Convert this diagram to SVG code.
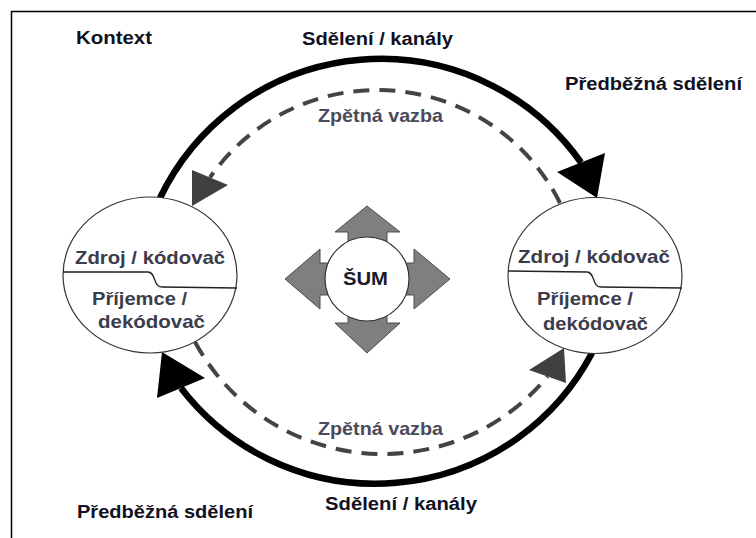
<svg xmlns="http://www.w3.org/2000/svg" width="756" height="538" viewBox="0 0 756 538">
<style>
.t{font-family:"Liberation Sans",Arial,sans-serif;font-weight:bold;}
.lab{font-size:18px;fill:#111122;}
.fb{font-size:18.5px;fill:#4a4a5c;}
.nd{font-size:18.5px;fill:#3c3c4c;}
.main{fill:none;stroke:#000;stroke-width:6.5;}
.dash{fill:none;stroke:#444;stroke-width:4;stroke-dasharray:16 10;}
.hb{fill:#000;}
.hg{fill:#404040;}
.node{fill:#fff;stroke:#333;stroke-width:1.2;}
.div{fill:none;stroke:#222;stroke-width:1.3;}
.noise{fill:#7f7f7f;stroke:#4d4d4d;stroke-width:1;}
</style>
<rect width="756" height="538" fill="#fff"/>
<path d="M11.5,538 V11.5 H756" fill="none" stroke="#000" stroke-width="1.5"/>

<g id="labels">
<text class="t lab" x="76" y="44" textLength="76" lengthAdjust="spacingAndGlyphs">Kontext</text>
<text class="t lab" x="302" y="45" textLength="151" lengthAdjust="spacingAndGlyphs">Sdělení / kanály</text>
<text class="t lab" x="565" y="90" textLength="177" lengthAdjust="spacingAndGlyphs">Předběžná sdělení</text>
<text class="t fb" x="318" y="122" textLength="125" lengthAdjust="spacingAndGlyphs">Zpětná vazba</text>
<text class="t fb" x="318" y="435" textLength="125" lengthAdjust="spacingAndGlyphs">Zpětná vazba</text>
<text class="t lab" x="325" y="510" textLength="152" lengthAdjust="spacingAndGlyphs">Sdělení / kanály</text>
<text class="t lab" x="77" y="518" textLength="176" lengthAdjust="spacingAndGlyphs">Předběžná sdělení</text>
</g>

<g id="connectors">
<path class="main" d="M160,198 A245,245 0 0 1 581,162.5"/>
<polygon class="hb" points="557,172 605,153 597,198"/>
<path class="main" d="M592,353 A245,245 0 0 1 181,388"/>
<polygon class="hb" points="162,352 205,378 157,398"/>
<path class="dash" d="M560,203 A204,204 0 0 0 210,177.5"/>
<polygon class="hg" points="192,206 192,170 228,185"/>
<path class="dash" d="M195,342 A213.6,213.6 0 0 0 547.5,376.5"/>
<polygon class="hg" points="564,348 529,370 566,383"/>
</g>

<g id="node-left">
<ellipse class="node" cx="150" cy="275" rx="87" ry="78"/>
<path class="div" d="M63,272 L148,272 C156,272 153,287 162,287 L237,288"/>
<text class="t nd" x="75" y="264" textLength="150" lengthAdjust="spacingAndGlyphs">Zdroj / kódovač</text>
<text class="t nd" x="92" y="305" textLength="95" lengthAdjust="spacingAndGlyphs">Příjemce /</text>
<text class="t nd" x="98" y="328" textLength="107" lengthAdjust="spacingAndGlyphs">dekódovač</text>
</g>

<g id="node-right">
<ellipse class="node" cx="595" cy="275.5" rx="87" ry="78"/>
<path class="div" d="M508,271 L587,272 C595,272 592,287 601,287 L682,288"/>
<text class="t nd" x="518" y="263" textLength="152" lengthAdjust="spacingAndGlyphs">Zdroj / kódovač</text>
<text class="t nd" x="537" y="305" textLength="96" lengthAdjust="spacingAndGlyphs">Příjemce /</text>
<text class="t nd" x="543" y="330" textLength="105" lengthAdjust="spacingAndGlyphs">dekódovač</text>
</g>

<g id="noise">
<path class="noise" d="M348,279 V232 H335 L367,206 L400,232 H387 V279 Z"/>
<path class="noise" d="M348,279 V323 H335 L367,353 L400,323 H387 V279 Z"/>
<path class="noise" d="M367,263 H320 V249 L285,279 L320,309 V295 H367 Z"/>
<path class="noise" d="M367,263 H414 V249 L450,279 L414,309 V295 H367 Z"/>
<circle class="node" cx="367" cy="279" r="42"/>
<text class="t nd" x="343" y="285" textLength="45" lengthAdjust="spacingAndGlyphs" style="fill:#1a1a2a">ŠUM</text>
</g>
</svg>
